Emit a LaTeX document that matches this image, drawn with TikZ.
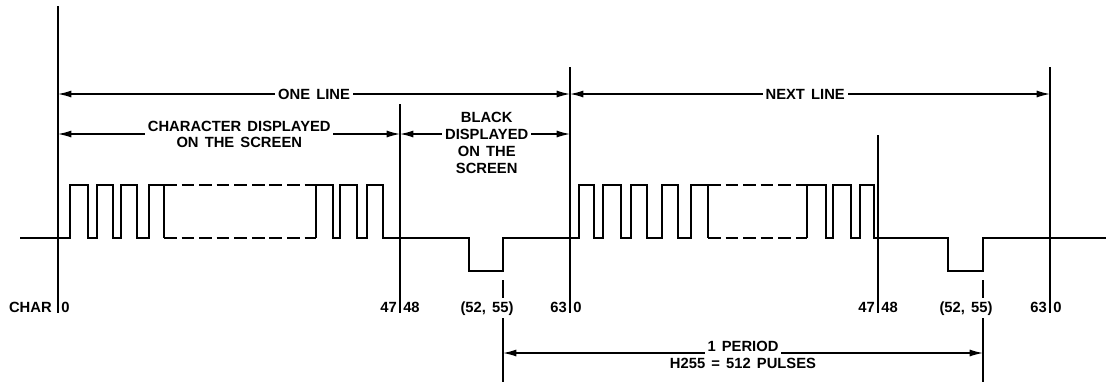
\documentclass[tikz,border=0pt]{standalone}
\usepackage{fontspec}
\setmainfont{Liberation Sans}[WordSpace=1.5]
\usetikzlibrary{arrows.meta}

\begin{document}
\begin{tikzpicture}[x=0.025cm, y=-0.025cm,
  every node/.style={font=\bfseries\fontsize{10.5}{12}\selectfont},
  wave/.style={line width=1.8pt},
  gap/.style={line width=1.8pt, dash pattern=on 9pt off 3.5pt},
  marker/.style={line width=0.8pt},
  dim/.style={line width=0.9pt, {Latex[length=9.5pt,width=5pt]}-{Latex[length=9.5pt,width=5pt]}},
  lab/.style={fill=white, inner sep=2pt, align=center},
  num/.style={inner sep=0pt}]
  \useasboundingbox (0,0) rectangle (1108,382);

  % character positions
  \coordinate (c0t) at (58,6);     \coordinate (c0b) at (58,313);
  \coordinate (c48t) at (400,104); \coordinate (c48b) at (400,313);
  \coordinate (c63t) at (570,67);  \coordinate (c63b) at (570,313);
  \coordinate (d48t) at (878,135); \coordinate (d48b) at (878,313);
  \coordinate (d63t) at (1050,67); \coordinate (d63b) at (1050,313);
  \coordinate (c55t) at (503,280); \coordinate (c55b) at (503,382);
  \coordinate (d55t) at (983,280); \coordinate (d55b) at (983,382);
  \draw[marker] (c0t) -- (c0b);
  \draw[marker] (c48t) -- (c48b);
  \draw[marker] (c63t) -- (c63b);
  \draw[marker] (d48t) -- (d48b);
  \draw[marker] (d63t) -- (d63b);
  \draw[marker] (c55t) -- (c55b);
  \draw[marker] (d55t) -- (d55b);

  % video signal
  \draw[wave] (20,238) -- (70,238) |- (88,185) |- (97,238) |- (113,185) |- (121,238)
    |- (137,185) |- (149,238) |- (164,185) -- (164,238);
  \draw[gap] (164,185) -- (316,185);
  \draw[gap] (164,238) -- (316,238);
  \draw[wave] (316,238) |- (333,185) |- (340,238) |- (357,185) |- (367,238) |- (383,185)
    |- (469,238) |- (503,271) |- (579,238) |- (594,185) |- (603,238) |- (621,185)
    |- (631,238) |- (647,185) |- (662,238) |- (678,185) |- (691,238) |- (708,185) -- (708,238);
  \draw[gap] (708,185) -- (807,185);
  \draw[gap] (708,238) -- (807,238);
  \draw[wave] (807,238) |- (826,185) |- (833,238) |- (851,185) |- (860,238) |- (874,185)
    |- (948,238) |- (983,271) |- (1106,238);

  % line lengths
  \coordinate (one0) at (58,94);   \coordinate (one1) at (570,94);
  \coordinate (next1) at (1050,94);
  \coordinate (chr0) at (58,134);  \coordinate (chr1) at (400,134);
  \coordinate (blk1) at (570,134);
  \draw[dim] (one0) -- node[lab] (oneline) {ONE LINE} (one1);
  \draw[dim] (one1) -- node[lab, pos=0.49] (nextline) {NEXT LINE} (next1);
  \draw[dim] (chr0) -- node[lab, pos=0.53, font=\bfseries\fontsize{10.5}{11.5}\selectfont] (chardisp)
    {CHARACTER DISPLAYED\\ON THE SCREEN} (chr1);
  \draw[dim] (chr1) -- node[lab, pos=0.51, yshift=-6.4pt] (blackdisp)
    {BLACK\\DISPLAYED\\ON THE\\SCREEN} (blk1);

  % character counts
  \node[num, anchor=base east] (charlab) at (52,312) {CHAR};
  \node[num, anchor=base west] (n0) at (61,312) {0};
  \node[num, anchor=base east] (n47) at (397,312) {47};
  \node[num, anchor=base west] (n48) at (403,312) {48};
  \node[lab, anchor=base, inner xsep=0pt] (n55) at (487,312) {(52, 55)};
  \node[num, anchor=base east] (n63) at (567,312) {63};
  \node[num, anchor=base west] (m0) at (573,312) {0};
  \node[num, anchor=base east] (m47) at (875,312) {47};
  \node[num, anchor=base west] (m48) at (881,312) {48};
  \node[lab, anchor=base, inner xsep=0pt] (m55) at (966,312) {(52, 55)};
  \node[num, anchor=base east] (m63) at (1047,312) {63};
  \node[num, anchor=base west] (k0) at (1053,312) {0};

  % period
  \coordinate (per0) at (503,353); \coordinate (per1) at (983,353);
  \draw[dim] (per0) -- node[lab, anchor=base, inner ysep=3pt, yshift=1pt] (period) {1 PERIOD} (per1);
  \node[anchor=base] (pulses) at ([yshift=-12pt]period.base) {H255 = 512 PULSES};
\end{tikzpicture}
\end{document}
